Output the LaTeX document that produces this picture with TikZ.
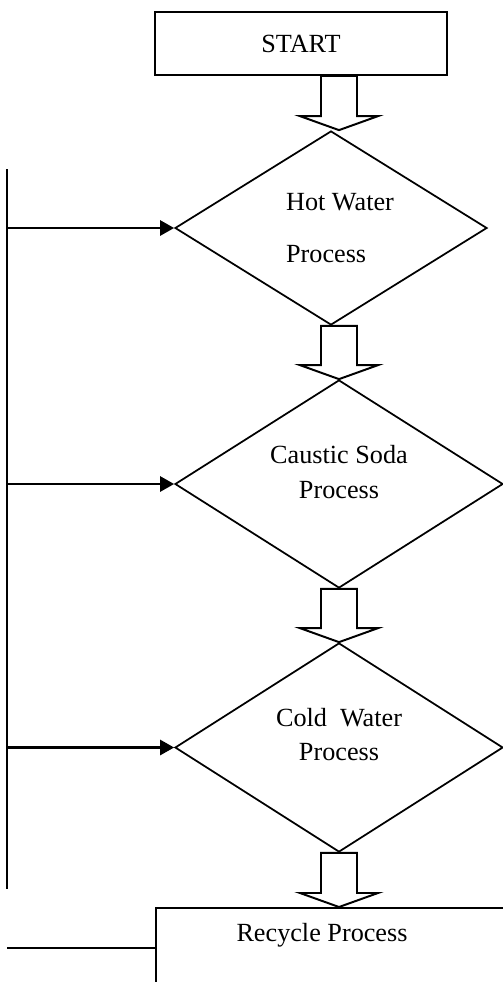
\documentclass[tikz,border=0pt]{standalone}
\usepackage{fontspec}
\setmainfont{Liberation Serif}
\usetikzlibrary{arrows.meta,shapes.geometric,calc}
\newlength{\unitpx}
\setlength{\unitpx}{0.458pt}
\newcommand{\blockarrow}[2]{%
	\draw[blockline] ($(#1)+(-18,0)$) -- ($(#2)+(-18,-14)$) -- ($(#2)+(-39,-14)$) -- (#2)
		-- ($(#2)+(39,-14)$) -- ($(#2)+(18,-14)$) -- ($(#1)+(18,0)$) -- cycle;}
\begin{document}
\begin{tikzpicture}[x=0.458pt, y=-0.458pt,
	every node/.style={font=\fontsize{12}{15.6}\selectfont},
	box/.style={draw, line width=0.9pt, rectangle, inner sep=0pt},
	proc/.style={draw, line width=0.8pt, diamond, inner sep=0pt},
	txt/.style={align=center},
	feed/.style={line width=1.1pt, -{Triangle[length=6.4pt,width=6.9pt]}},
	blockline/.style={line width=0.9pt, line join=miter}]
	\useasboundingbox (0,0) rectangle (503,982);
	\clip (0,0) rectangle (503,982);
	\node[box, minimum width=292\unitpx, minimum height=63\unitpx] (start) at (301,43.5) {START};
	\node[proc, minimum width=312\unitpx, minimum height=194\unitpx] (hot) at (331,228) {};
	\node[proc, minimum width=328\unitpx, minimum height=208\unitpx] (caustic) at (339,484) {};
	\node[proc, minimum width=328\unitpx, minimum height=209\unitpx] (cold) at (339,747.5) {};
	\node[box, anchor=north west, minimum width=420\unitpx, minimum height=150\unitpx] (recycle) at (155,907) {};
	\node[txt, align=left] (hottext) at ([xshift=9\unitpx]hot.center) {Hot Water\\[8.4pt]Process};
	\node[txt] (caustictext) at ([yshift=12\unitpx]caustic.center) {Caustic Soda\\Process};
	\node[txt] (coldtext) at ([yshift=13\unitpx]cold.center) {Cold\ \ Water\\Process};
	\node (recycletext) at ([xshift=167\unitpx, yshift=-28\unitpx]recycle.north west) {Recycle Process};
	\coordinate (rtop) at (7,169);
	\coordinate (rbot) at (7,889);
	\coordinate (rfeed) at (7,948);
	\draw[line width=0.9pt] (rtop) -- (rbot);
	\foreach \n in {hot,caustic,cold}
		\draw[feed] (\n.west -| rtop) -- (\n.west);
	\draw[line width=0.9pt] (rfeed) -- (rfeed -| recycle.west);
	\blockarrow{start.south -| caustic.north}{hot.north -| caustic.north}
	\blockarrow{hot.south -| caustic.north}{caustic.north}
	\blockarrow{caustic.south}{cold.north}
	\blockarrow{cold.south}{cold.south |- recycle.north}
\end{tikzpicture}
\end{document}
